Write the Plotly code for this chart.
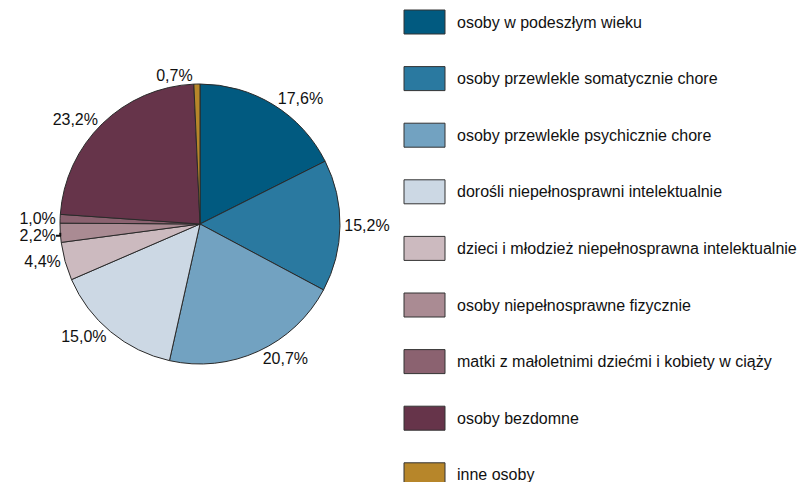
import plotly.graph_objects as go

categories = [
    "osoby w podeszłym wieku",
    "osoby przewlekle somatycznie chore",
    "osoby przewlekle psychicznie chore",
    "dorośli niepełnosprawni intelektualnie",
    "dzieci i młodzież niepełnosprawna intelektualnie",
    "osoby niepełnosprawne fizycznie",
    "matki z małoletnimi dziećmi i kobiety w ciąży",
    "osoby bezdomne",
    "inne osoby",
]
values = [17.6, 15.2, 20.7, 15.0, 4.4, 2.2, 1.0, 23.2, 0.7]
colors = ["#015A80", "#2A79A0", "#72A2C1", "#CCD8E4", "#CCBABF",
          "#AA8B93", "#8B6270", "#66344A", "#B7862A"]

W, H = 809, 482
OFF = 8  # page body margin offset
FONT = "Liberation Sans, Arial, sans-serif"
FS = 16

cx, cy, r = 200 - OFF, 224 - OFF, 140

fig = go.Figure()
fig.add_trace(go.Pie(
    labels=categories,
    values=values,
    sort=False,
    direction="clockwise",
    rotation=0,
    marker=dict(colors=colors, line=dict(color="#2a2a2a", width=1)),
    textposition="outside",
    texttemplate="%{value:.1f}%",
    textfont=dict(family=FONT, size=FS, color="#111111"),
    domain=dict(x=[(cx - r) / W, (cx + r) / W],
                y=[(H - cy - r) / H, (H - cy + r) / H]),
    showlegend=False,
    hoverinfo="label+value",
))

# custom legend (large spaced boxes)
shapes = []
annotations = []
for i, (name, col) in enumerate(zip(categories, colors)):
    top = 10 + 56.6 * i - OFF
    shapes.append(dict(
        type="rect", xref="paper", yref="paper",
        x0=(404 - OFF) / W, x1=(445 - OFF) / W,
        y0=1 - (top + 24) / H, y1=1 - top / H,
        fillcolor=col, line=dict(color="#333333", width=1),
    ))
    annotations.append(dict(
        xref="paper", yref="paper", x=(455 - OFF) / W, y=1 - (top + 12) / H,
        text=name, showarrow=False, xanchor="left", yanchor="middle",
        font=dict(family=FONT, size=FS, color="#111111"),
    ))

fig.update_layout(
    width=W, height=H,
    margin=dict(l=0, r=0, t=0, b=0),
    paper_bgcolor="white", plot_bgcolor="white",
    separators=", ",
    shapes=shapes,
    annotations=annotations,
    font=dict(family=FONT),
)

fig.write_html("out.html")
